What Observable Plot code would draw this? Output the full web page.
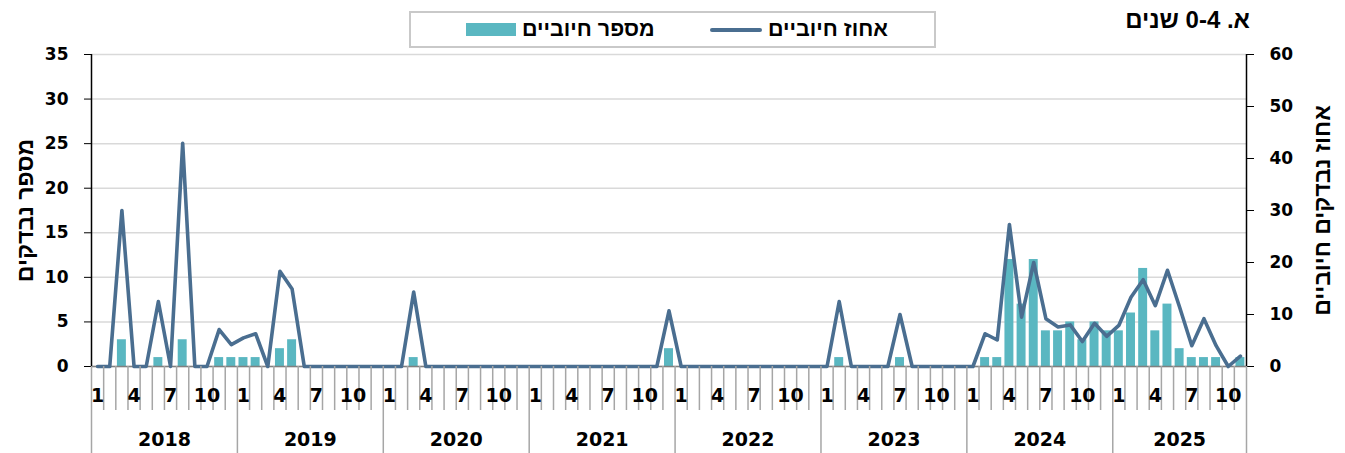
<!DOCTYPE html>
<html>
<head>
<meta charset="utf-8">
<script src="https://cdn.jsdelivr.net/npm/d3@7"></script>
<script src="https://cdn.jsdelivr.net/npm/@observablehq/plot@0.6"></script>
<style>
  body { margin: 0; background: #fff; font-family: "DejaVu Sans", sans-serif; }
  #wrap { position: relative; width: 1345px; height: 453px; }
  #header { position: relative; height: 40px; }
  #title { position: absolute; right: 95px; top: 6px; font-family: "Liberation Sans", Arial, sans-serif; font-weight: bold; font-size: 24px; direction: rtl; white-space: nowrap; }
  #legend { position: absolute; left: 409px; top: 11px; width: 527px; height: 37px; border: 2px solid #c9c9c9; box-sizing: border-box; }
  .item { position: absolute; top: 0; height: 33px; display: flex; align-items: center; font-family: "Liberation Sans", Arial, sans-serif; font-weight: bold; font-size: 21.5px; white-space: nowrap; }
  .item .lbl { direction: rtl; unicode-bidi: isolate; margin-left: 6px; }
  .sw-bar { width: 50px; height: 13px; }
  .sw-line { width: 52px; height: 4px; border-radius: 2px; }
</style>
</head>
<body>
<div id="wrap">
  <div id="header">
    <div id="legend"></div>
    <div id="title"></div>
  </div>
  <div id="chart"></div>
</div>
<script>
// ---- data ----
const years = [2018, 2019, 2020, 2021, 2022, 2023, 2024, 2025];
const monthsInYear = [12, 12, 12, 12, 12, 12, 12, 11];
// number of positive tests per month (left axis)
const positives = [
  0, 0, 3, 0, 0, 1, 0, 3, 0, 0, 1, 1,        // 2018
  1, 1, 0, 2, 3, 0, 0, 0, 0, 0, 0, 0,        // 2019
  0, 0, 1, 0, 0, 0, 0, 0, 0, 0, 0, 0,        // 2020
  0, 0, 0, 0, 0, 0, 0, 0, 0, 0, 0, 2,        // 2021
  0, 0, 0, 0, 0, 0, 0, 0, 0, 0, 0, 0,        // 2022
  0, 1, 0, 0, 0, 0, 1, 0, 0, 0, 0, 0,        // 2023
  0, 1, 1, 12, 7, 12, 4, 4, 5, 3, 5, 4,      // 2024
  4, 6, 11, 4, 7, 2, 1, 1, 1, 0, 1           // 2025
];
// percent of tested that were positive (right axis)
const percentPositive = [
  0, 0, 30, 0, 0, 12.5, 0, 42.9, 0, 0, 7.1, 4.2,
  5.5, 6.3, 0, 18.3, 14.9, 0, 0, 0, 0, 0, 0, 0,
  0, 0, 14.3, 0, 0, 0, 0, 0, 0, 0, 0, 0,
  0, 0, 0, 0, 0, 0, 0, 0, 0, 0, 0, 10.7,
  0, 0, 0, 0, 0, 0, 0, 0, 0, 0, 0, 0,
  0, 12.5, 0, 0, 0, 0, 10, 0, 0, 0, 0, 0,
  0, 6.3, 5.1, 27.3, 9.5, 20, 9.2, 7.6, 8, 4.8, 8.3, 5.8,
  7.9, 13.3, 16.7, 11.7, 18.5, 11.4, 4, 9.2, 4, 0, 2
];
const monthTickLabels = [1, 4, 7, 10];
const leftTicks = [0, 5, 10, 15, 20, 25, 30, 35];
const rightTicks = [0, 10, 20, 30, 40, 50, 60];
const seriesNames = ["מספר חיוביים", "אחוז חיוביים"];
const axisTitles = ["מספר נבדקים", "אחוז נבדקים חיוביים"];
const chartTitle = "א. 0-4 שנים";

const barColor = "#5ab7c1";
const lineColor = "#4a6e90";

// ---- build rows ----
const rows = [];
years.forEach((yr, k) => {
  for (let m = 1; m <= monthsInYear[k]; m++) rows.push({ year: yr, month: m });
});
rows.forEach((r, i) => { r.i = i; r.count = positives[i]; r.pct = percentPositive[i]; });
const n = rows.length;
const xDomain = [-0.5, n - 0.5];
const factor = d3.max(leftTicks) / d3.max(rightTicks);

const yearBounds = [];
const yearCenters = [];
let acc = 0;
monthsInYear.forEach((c) => { yearBounds.push(acc - 0.5); yearCenters.push(acc + (c - 1) / 2); acc += c; });
yearBounds.push(acc - 0.5);
const monthBounds = rows.slice(0, -1).map(r => r.i + 0.5).filter(b => !yearBounds.includes(b));
const monthLabelIdx = rows.filter(r => monthTickLabels.includes(r.month)).map(r => r.i);

// ---- title & legend ----
document.getElementById("title").textContent = chartTitle;
const legend = document.getElementById("legend");
const items = [
  { name: seriesNames[0], cls: "sw-bar", color: barColor, left: 55 },
  { name: seriesNames[1], cls: "sw-line", color: lineColor, left: 299 }
];
items.forEach(it => {
  const d = document.createElement("div");
  d.className = "item";
  d.style.left = it.left + "px";
  const sw = document.createElement("span");
  sw.className = it.cls;
  sw.style.background = it.color;
  const lb = document.createElement("span");
  lb.className = "lbl";
  lb.textContent = it.name;
  d.append(sw, lb);
  legend.append(d);
});

// ---- chart ----
const hebFont = "Liberation Sans";
const chart = Plot.plot({
  width: 1345,
  height: 413,
  marginTop: 14,
  marginBottom: 87,
  marginLeft: 91,
  marginRight: 99,
  style: { fontFamily: "DejaVu Sans", fontSize: "17px", fontWeight: "bold", background: "white", color: "black" },
  x: { type: "linear", domain: xDomain, axis: null },
  y: { domain: [0, d3.max(leftTicks)], axis: null },
  marks: [
    Plot.gridY(leftTicks, { stroke: "#d9d9d9", strokeOpacity: 1, strokeWidth: 1.5 }),
    Plot.rectY(rows, { x1: d => d.i - 0.5, x2: d => d.i + 0.5, y: "count", fill: barColor, insetLeft: 1.6, insetRight: 1.6 }),
    Plot.ruleY([0], { stroke: "#808080", strokeWidth: 1.5 }),
    Plot.lineY(rows, { x: "i", y: d => d.pct * factor, stroke: lineColor, strokeWidth: 3.6, strokeLinejoin: "round" }),
    Plot.ruleX(xDomain, { stroke: "black", strokeWidth: 1.5 }),
    Plot.axisY({ anchor: "left", ticks: leftTicks, tickSize: 7, tickPadding: 16, label: null, fontSize: 17 }),
    Plot.axisY({ anchor: "right", ticks: rightTicks.map(v => v * factor), tickFormat: v => String(Math.round(v / factor)), tickSize: 7, tickPadding: 16, label: null, fontSize: 17 }),
    Plot.axisX({ ticks: monthBounds, tickSize: 44, tickFormat: () => "", stroke: "#a6a6a6", strokeWidth: 1.5, label: null }),
    Plot.axisX({ ticks: yearBounds, tickSize: 87, tickFormat: () => "", stroke: "#a6a6a6", strokeWidth: 1.5, label: null }),
    Plot.axisX({ ticks: monthLabelIdx, tickSize: 0, tickPadding: 22, tickFormat: i => String(rows[i].month), label: null, fontSize: 19 }),
    Plot.axisX({ ticks: yearCenters, tickSize: 0, tickPadding: 66, tickFormat: c => String(years[yearCenters.indexOf(c)]), label: null, fontSize: 19 }),
    Plot.text([axisTitles[0]], { text: d => d, frameAnchor: "left", dx: -66, rotate: -90, textAnchor: "middle", fontSize: 23, fontWeight: "bold", fontFamily: hebFont }),
    Plot.text([axisTitles[1]], { text: d => d, frameAnchor: "right", dx: 76, rotate: -90, textAnchor: "middle", fontSize: 23, fontWeight: "bold", fontFamily: hebFont })
  ]
});
document.getElementById("chart").append(chart);
</script>
</body>
</html>
